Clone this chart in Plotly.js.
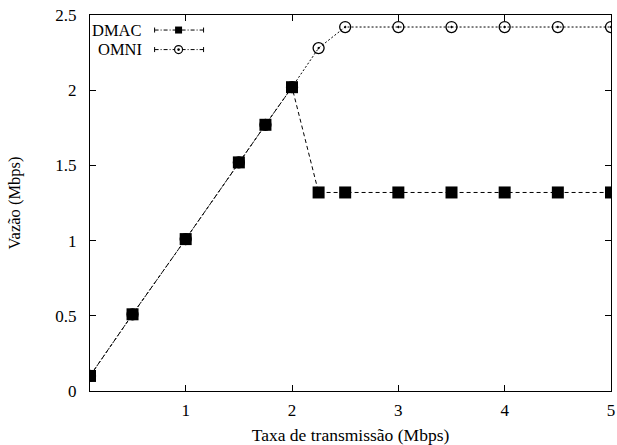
<!DOCTYPE html>
<html>
<head>
<meta charset="utf-8">
<script src="https://cdn.plot.ly/plotly-3.0.1.min.js"></script>
<style>html,body{margin:0;padding:0;background:#fff;}#chart{width:617px;height:445px;}</style>
</head>
<body>
<div id="chart"></div>
<script>
// Data
const taxa = [0.1, 0.5, 1.0, 1.5, 1.75, 2.0, 2.25, 2.5, 3.0, 3.5, 4.0, 4.5, 5.0];
const dmac = [0.10, 0.51, 1.01, 1.52, 1.77, 2.02, 1.32, 1.32, 1.32, 1.32, 1.32, 1.32, 1.32];
const omni = [0.10, 0.51, 1.01, 1.52, 1.77, 2.02, 2.28, 2.42, 2.42, 2.42, 2.42, 2.42, 2.42];
const seriesNames = ["DMAC", "OMNI"];
const xTicks = [1, 2, 3, 4, 5];
const yTicks = [0, 0.5, 1, 1.5, 2, 2.5];
const yTickText = ["0", "0.5", "1", "1.5", "2", "2.5"];

const FONT = "Liberation Serif";

const traces = [
  {x: taxa, y: omni, name: seriesNames[1], mode: "lines+markers",
   line: {color: "#000", width: 1, dash: "2px,2px"},
   marker: {symbol: "circle-open-dot", size: 11, color: "#000", line: {width: 1.3, color: "#000"}}},
  {x: taxa, y: dmac, name: seriesNames[0], mode: "lines+markers",
   line: {color: "#000", width: 1, dash: "4px,3px"},
   marker: {symbol: "square", size: 12, color: "#000"}}
];

// Legend (gnuplot style: text on the left, sample on the right)
const legY = [0.960, 0.908];
const lx0 = 0.124, lx1 = 0.218, lxm = 0.170;
const shapes = [];
const annotations = [];
seriesNames.forEach((nm, i) => {
  annotations.push({xref: "paper", yref: "paper", x: 0.101, y: legY[i], xanchor: "right", yanchor: "middle",
    text: nm, showarrow: false, font: {family: FONT, size: 16.5, color: "#000"}, borderpad: 0});
  shapes.push({type: "line", xref: "paper", yref: "paper", x0: lx0, x1: lx1, y0: legY[i], y1: legY[i],
    line: {color: "#000", width: 1, dash: "4px,2px,1px,2px"}});
  [lx0, lx1].forEach(ex => shapes.push({type: "line", xref: "paper", yref: "paper", xsizemode: "pixel", ysizemode: "pixel",
    xanchor: ex, yanchor: legY[i], x0: 0, x1: 0, y0: -2.5, y1: 2.5, line: {color: "#000", width: 1}}));
  if (i === 0) {
    shapes.push({type: "rect", xref: "paper", yref: "paper", xsizemode: "pixel", ysizemode: "pixel",
      xanchor: lxm, yanchor: legY[i], x0: -3.5, x1: 3.5, y0: -3.5, y1: 3.5,
      fillcolor: "#000", line: {width: 0}});
  } else {
    shapes.push({type: "circle", xref: "paper", yref: "paper", xsizemode: "pixel", ysizemode: "pixel",
      xanchor: lxm, yanchor: legY[i], x0: -4, x1: 4, y0: -4, y1: 4,
      fillcolor: "#fff", line: {color: "#000", width: 1.2}});
    shapes.push({type: "circle", xref: "paper", yref: "paper", xsizemode: "pixel", ysizemode: "pixel",
      xanchor: lxm, yanchor: legY[i], x0: -1.3, x1: 1.3, y0: -1.3, y1: 1.3,
      fillcolor: "#000", line: {width: 0}});
  }
});

const layout = {
  width: 617, height: 445,
  margin: {l: 89.5, r: 6, t: 15, b: 54, pad: 0},
  paper_bgcolor: "#fff", plot_bgcolor: "#fff",
  showlegend: false,
  font: {family: FONT, size: 17, color: "#000"},
  xaxis: {
    range: [0.1, 5], tickmode: "array", tickvals: xTicks, ticktext: xTicks.map(String),
    ticks: "inside", ticklen: 6, tickwidth: 1, tickcolor: "#000",
    showline: true, linecolor: "#000", linewidth: 1, mirror: "allticks",
    showgrid: false, zeroline: false, ticklabelstandoff: 4,
    tickfont: {family: FONT, size: 17},
    title: {text: "Taxa de transmissão (Mbps)", font: {family: FONT, size: 17.5}, standoff: 10}
  },
  yaxis: {
    range: [0, 2.5], tickmode: "array", tickvals: yTicks, ticktext: yTickText,
    ticks: "inside", ticklen: 6, tickwidth: 1, tickcolor: "#000",
    showline: true, linecolor: "#000", linewidth: 1, mirror: "allticks",
    showgrid: false, zeroline: false, ticklabelstandoff: 9,
    tickfont: {family: FONT, size: 17},
    title: {text: "Vazão (Mbps)", font: {family: FONT, size: 16.5}, standoff: 30}
  },
  shapes: shapes,
  annotations: annotations
};

Plotly.newPlot("chart", traces, layout, {displayModeBar: false, staticPlot: true});
</script>
</body>
</html>
